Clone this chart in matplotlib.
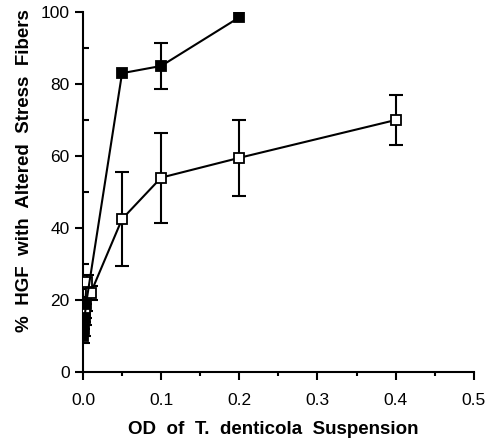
import matplotlib
matplotlib.use("Agg")
import matplotlib.pyplot as plt
from matplotlib.ticker import MultipleLocator, FormatStrFormatter

plt.rcParams['font.family'] = ['Liberation Sans', 'DejaVu Sans']

# open squares
od_open = [0.0, 0.002, 0.005, 0.01, 0.05, 0.1, 0.2, 0.4]
pct_open = [14, 17, 25, 22, 42.5, 54, 59.5, 70]
err_open = [2, 2, 2, 2, 13, 12.5, 10.5, 7]

# filled squares
od_fill = [0.0, 0.001, 0.002, 0.004, 0.05, 0.1, 0.2]
pct_fill = [10, 12, 15, 19, 83, 85, 98.5]
err_fill = [2, 2, 2, 2, 0, 6.5, 0]

fig = plt.figure(figsize=(4.88, 4.42), dpi=100)
ax = fig.add_axes([0.170, 0.158, 0.801, 0.815])


def draw(xs, ys, errs, face):
    ax.plot(xs, ys, color='black', lw=1.5, marker='s', ms=7, mfc=face,
            mec='black', mew=1.3, zorder=4)
    keep = [i for i, e in enumerate(errs) if e > 0]
    ax.errorbar([xs[i] for i in keep], [ys[i] for i in keep],
                yerr=[errs[i] for i in keep], fmt='none', ecolor='black',
                elinewidth=1.5, capsize=5, capthick=1.5, zorder=3)


draw(od_open, pct_open, err_open, 'white')
draw(od_fill, pct_fill, err_fill, 'black')

ax.set_xlim(0, 0.5)
ax.set_ylim(0, 100)
ax.set_xticks([0.0, 0.1, 0.2, 0.3, 0.4, 0.5])
ax.set_yticks([0, 20, 40, 60, 80, 100])
ax.xaxis.set_minor_locator(MultipleLocator(0.05))
ax.yaxis.set_minor_locator(MultipleLocator(10))
ax.tick_params(axis='both', which='major', direction='out', length=6, width=1.5, labelsize=12.5)
ax.tick_params(axis='x', which='major', pad=9)
ax.tick_params(axis='x', which='minor', direction='out', length=3, width=1.5)
ax.tick_params(axis='y', which='minor', direction='in', length=4, width=1.5)
ax.xaxis.set_major_formatter(FormatStrFormatter('%.1f'))

for s in ['top', 'right']:
    ax.spines[s].set_visible(False)
for s in ['left', 'bottom']:
    ax.spines[s].set_linewidth(1.5)

ax.set_xlabel('OD  of  T.  denticola  Suspension', fontsize=13.5, fontweight='bold')
ax.set_ylabel('%  HGF  with  Altered  Stress  Fibers', fontsize=13.5, fontweight='bold')
ax.xaxis.set_label_coords(0.487, -0.135)
ax.yaxis.set_label_coords(-0.128, 0.56)

fig.savefig('out.png', dpi=100)
